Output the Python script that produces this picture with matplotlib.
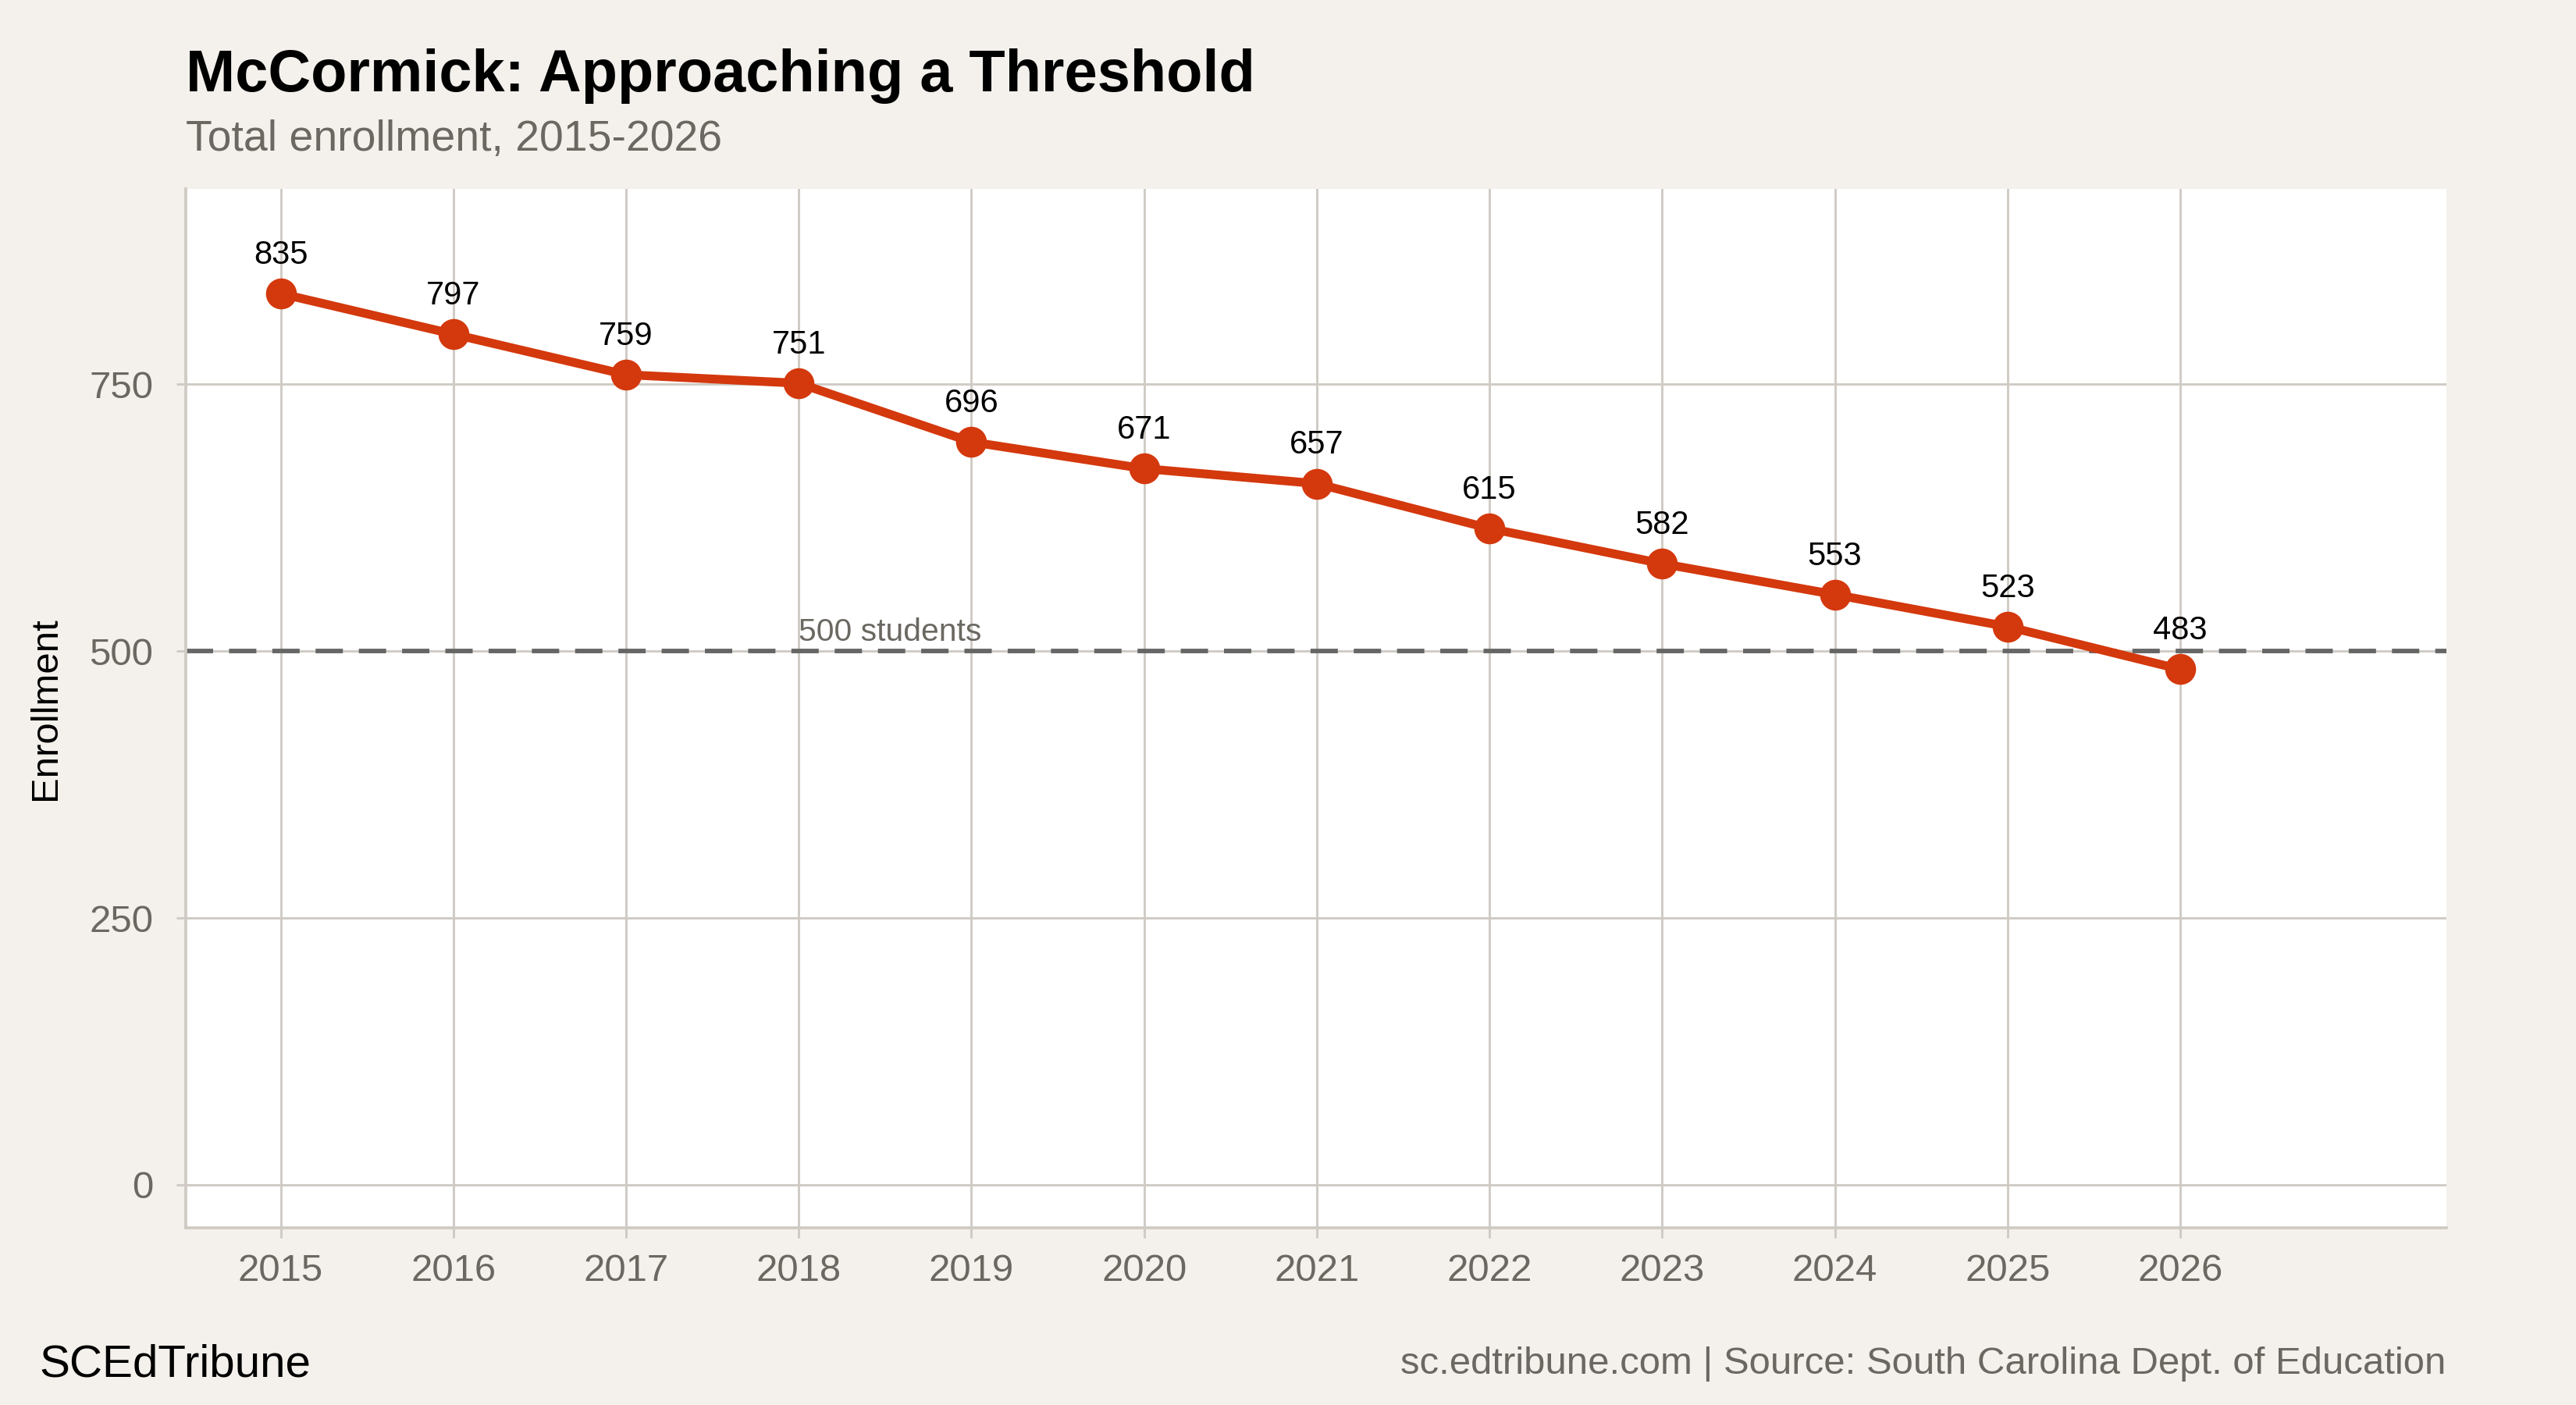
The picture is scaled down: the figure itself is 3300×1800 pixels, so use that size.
import matplotlib.pyplot as plt

plt.rcParams['font.family'] = ['Liberation Sans', 'DejaVu Sans']

years = [2015, 2016, 2017, 2018, 2019, 2020, 2021, 2022, 2023, 2024, 2025, 2026]
enrollment = [835, 797, 759, 751, 696, 671, 657, 615, 582, 553, 523, 483]
threshold = 500
threshold_label = '500 students'
y_ticks = [0, 250, 500, 750]

bg = '#F4F1EC'
grid_col = '#CFCBC4'
line_col = '#D4380D'
gray_txt = '#6B6862'

fig = plt.figure(figsize=(11, 6), dpi=300, facecolor=bg)
ax = fig.add_axes([0.0721, 0.1263, 0.8775, 0.7392])
ax.set_facecolor('white')

ax.set_xlim(2014.45, 2027.54)
ax.set_ylim(-40, 933)

ax.set_xticks(years)
ax.set_xticklabels([str(y) for y in years])
ax.set_yticks(y_ticks)
ax.grid(True, color=grid_col, linewidth=0.7)
ax.set_axisbelow(True)

for s in ['top', 'right']:
    ax.spines[s].set_visible(False)
for s in ['left', 'bottom']:
    ax.spines[s].set_color(grid_col)
    ax.spines[s].set_linewidth(0.9)

ax.tick_params(axis='both', colors=grid_col, length=3, width=0.7,
               labelcolor=gray_txt, labelsize=11.8)
ax.tick_params(axis='x', pad=5)
ax.tick_params(axis='y', pad=7)

ax.axhline(threshold, color='#666666', linewidth=1.4, linestyle=(0, (6, 3.5)), zorder=2)
ax.text(2018, threshold + 4, threshold_label, color=gray_txt, fontsize=9.8,
        ha='left', va='bottom')

ax.plot(years, enrollment, color=line_col, linewidth=2.7, marker='o',
        markersize=8.5, zorder=3)
for x, v in zip(years, enrollment):
    ax.annotate(str(v), (x, v), xytext=(0, 7), textcoords='offset points',
                ha='center', va='bottom', fontsize=10, color='black')

ax.set_ylabel('Enrollment', fontsize=11.8, color='black', labelpad=8)

fig.text(0.0721, 0.935, 'McCormick: Approaching a Threshold', fontsize=18.2,
         fontweight='bold', color='black', ha='left', va='baseline')
fig.text(0.0721, 0.893, 'Total enrollment, 2015-2026', fontsize=13.3,
         color=gray_txt, ha='left', va='baseline')
fig.text(0.0153, 0.02, 'SCEdTribune', fontsize=14, color='black',
         ha='left', va='baseline')
fig.text(0.9496, 0.022, 'sc.edtribune.com | Source: South Carolina Dept. of Education',
         fontsize=11.8, color=gray_txt, ha='right', va='baseline')

fig.savefig('out.png', dpi=300, facecolor=bg)
